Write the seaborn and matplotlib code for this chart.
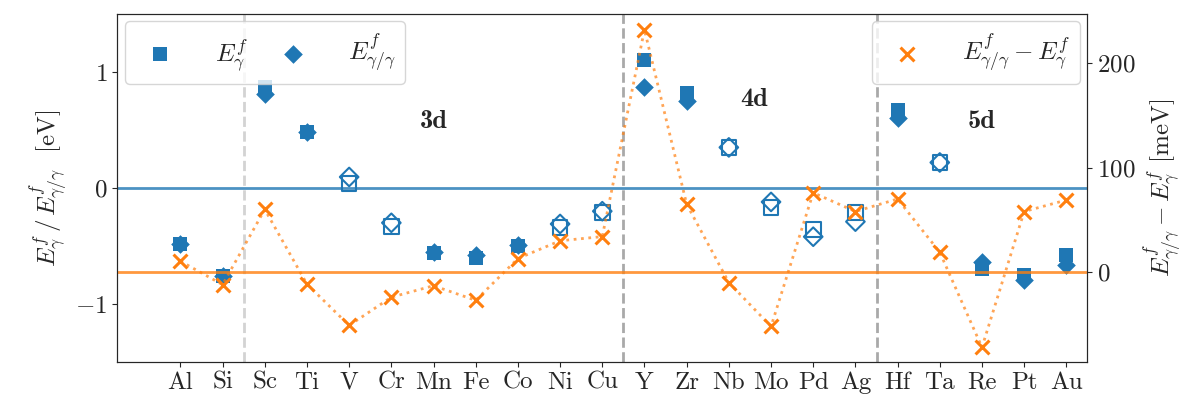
import numpy as np
import pandas as pd
import matplotlib
matplotlib.use("Agg")
import matplotlib.pyplot as plt
import seaborn as sns

sns.set_style("ticks")
plt.rcParams['font.family'] = 'serif'
plt.rcParams['font.serif'] = ['cmr10']
plt.rcParams['mathtext.fontset'] = 'cm'
plt.rcParams['axes.formatter.use_mathtext'] = True
plt.rcParams['axes.unicode_minus'] = True

# elements and values
elements = ['Al', 'Si', 'Sc', 'Ti', 'V', 'Cr', 'Mn', 'Fe', 'Co', 'Ni', 'Cu',
            'Y', 'Zr', 'Nb', 'Mo', 'Pd', 'Ag', 'Hf', 'Ta', 'Re', 'Pt', 'Au']
e_gamma = [-0.48, -0.76, 0.87, 0.48, 0.04, -0.33, -0.56, -0.60, -0.50, -0.34, -0.21,
           1.10, 0.82, 0.35, -0.17, -0.36, -0.21, 0.67, 0.22, -0.70, -0.75, -0.58]
e_gg = [-0.48, -0.76, 0.81, 0.48, 0.095, -0.30, -0.55, -0.58, -0.49, -0.31, -0.20,
        0.87, 0.75, 0.35, -0.12, -0.42, -0.29, 0.60, 0.22, -0.64, -0.79, -0.66]
diff_mev = [10.5, -12, 60, -11.5, -51, -24, -13, -27, 13, 30, 34,
            232, 65, -10, -52, 76, 58, 70, 19, -72, 58, 69]
hollow = ['V', 'Cr', 'Ni', 'Cu', 'Nb', 'Mo', 'Pd', 'Ag', 'Ta']
shells = ['3d', '4d', '5d']

df = pd.DataFrame({'el': elements, 'eg': e_gamma, 'egg': e_gg, 'diff': diff_mev})
df['x'] = np.arange(len(df))
df['hollow'] = df['el'].isin(hollow)
filled_df = df[~df['hollow']]
hollow_df = df[df['hollow']]

fig = plt.figure(figsize=(11.95, 4.0), dpi=100)
ax = fig.add_axes([0.098, 0.095, 0.812, 0.87])
ax2 = ax.twinx()

blue = '#1f77b4'
orange = '#ff7f0e'

# vertical separators
ax.axvline(1.5, color='lightgray', ls='--', lw=2, zorder=0)
ax.axvline(10.5, color='darkgray', ls='--', lw=2, zorder=0)
ax.axvline(16.5, color='darkgray', ls='--', lw=2, zorder=0)
ax.axhline(0, color=blue, lw=2, alpha=0.8, zorder=0)

sns.scatterplot(data=filled_df, x='x', y='eg', marker='s', s=110, color=blue,
                edgecolor=blue, linewidth=0, ax=ax, label=r'$E^f_\gamma$')
sns.scatterplot(data=filled_df, x='x', y='egg', marker='D', s=90, color=blue,
                edgecolor=blue, linewidth=0, ax=ax, label=r'$E^f_{\gamma/\gamma}$')
ax.scatter(hollow_df['x'], hollow_df['eg'], marker='s', s=110, facecolors='none',
           edgecolors=blue, linewidths=1.5)
ax.scatter(hollow_df['x'], hollow_df['egg'], marker='D', s=90, facecolors='none',
           edgecolors=blue, linewidths=1.5)

ax2.axhline(0, color=orange, lw=2, alpha=0.8, zorder=0)
sns.lineplot(data=df, x='x', y='diff', color=orange, ls=':', lw=2, alpha=0.7, ax=ax2)
sns.scatterplot(data=df, x='x', y='diff', marker='x', s=100, color=orange,
                linewidth=2.2, ax=ax2, label=r'$E^f_{\gamma/\gamma} - E^f_\gamma$')

for xpos, ypos, txt in zip([6, 13.6, 19], [0.57, 0.76, 0.57], shells):
    ax.text(xpos, ypos, txt, fontsize=19, fontfamily='cmb10', ha='center', va='center')

ax.set_xlim(-1.5, 21.5)
ax.set_ylim(-1.5, 1.5)
ax2.set_ylim(-86, 247)
ax.set_xticks(df['x'])
ax.set_xticklabels(elements, fontsize=17)
ax.set_yticks([-1, 0, 1])
ax2.set_yticks([0, 100, 200])
ax.tick_params(labelsize=18)
ax2.tick_params(labelsize=18)
ax.set_xlabel('')
ax.set_ylabel(r'$E^f_\gamma\,/\,E^f_{\gamma/\gamma}$  [eV]', fontsize=18)
ax2.set_ylabel(r'$E^f_{\gamma/\gamma} - E^f_\gamma$ [meV]', fontsize=18)

ax.legend(loc='upper left', ncol=2, fontsize=18, handletextpad=1.2,
          columnspacing=0.8, borderaxespad=0.3)
ax2.legend(loc='upper right', fontsize=18, handletextpad=1.2, borderaxespad=0.3)

fig.savefig('out.png', dpi=100)
